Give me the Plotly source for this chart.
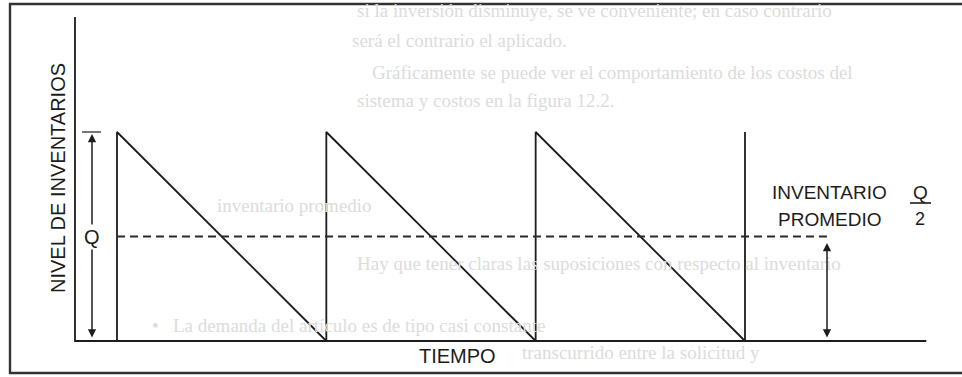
import plotly.graph_objects as go

# Modelo de inventario en dientes de sierra
pedidos = [0, 1, 2, 3]        # instantes de reposicion (un ciclo = 1)
Q = 100                       # tamaño del lote
promedio = Q / 2              # inventario promedio
fin_tiempo = 3.866            # extremo del eje TIEMPO
fin_promedio = 3.41           # donde termina la linea punteada
tope_eje_y = 155              # extremo superior del eje vertical

titulo_y = 'NIVEL DE INVENTARIOS'
titulo_x = 'TIEMPO'
etiqueta_1 = 'INVENTARIO'
etiqueta_2 = 'PROMEDIO'

# texto del reverso de la pagina que se transparenta en el escaneo
texto_fondo = [
    ('si la inversión disminuye, se ve conveniente; en caso contrario', 355, 10),
    ('será el contrario el aplicado.', 350, 40),
    ('Gráficamente se puede ver el comportamiento de los costos del', 370, 72),
    ('sistema y costos en la figura 12.2.', 355, 100),
    ('inventario promedio', 215, 205),
    ('Hay que tener claras las suposiciones con respecto al inventario', 355, 263),
    ('•   La demanda del artículo es de tipo casi constante', 150, 325),
    ('transcurrido entre la solicitud y', 520, 352),
]

# escala: pixeles de la imagen -> unidades de datos
W, H = 962, 377
x0_px, px_x = 117, 209.33
y0_px, px_y = 341, 2.09
def dx(px):
    return (px - x0_px) / px_x
def dy(py):
    return (y0_px - py) / px_y

negro = '#1c1c1c'
fuente = 'Arial, Liberation Sans, sans-serif'

xs, ys = [], []
for i, t in enumerate(pedidos):
    xs += [t, t]
    ys += [0, Q]
    if i < len(pedidos) - 1:
        xs.append(pedidos[i + 1])
        ys.append(0)

fig = go.Figure()

# texto tenue de fondo
for txt, px, py in texto_fondo:
    fig.add_annotation(x=dx(px), y=dy(py), text=txt, showarrow=False,
                       xanchor='left', yanchor='middle',
                       font=dict(family='Liberation Serif, DejaVu Serif, serif',
                                 size=19, color='#dcdcdc'))

# ejes dibujados
fig.add_trace(go.Scatter(x=[dx(75), dx(75), fin_tiempo], y=[tope_eje_y, 0, 0],
                         mode='lines', line=dict(color=negro, width=1.8),
                         hoverinfo='skip'))
# dientes de sierra
fig.add_trace(go.Scatter(x=xs, y=ys, mode='lines',
                         line=dict(color=negro, width=1.8), hoverinfo='skip'))
# inventario promedio
fig.add_trace(go.Scatter(x=[pedidos[0], fin_promedio], y=[promedio, promedio],
                         mode='lines', line=dict(color='#2a2a2a', width=2, dash='8px,5px'),
                         hoverinfo='skip'))
# marca superior de Q
fig.add_trace(go.Scatter(x=[dx(82), dx(101)], y=[Q, Q], mode='lines',
                         line=dict(color='#555555', width=1.6), hoverinfo='skip'))
# barra de la fraccion Q/2
fig.add_trace(go.Scatter(x=[dx(910), dx(931)], y=[dy(203), dy(203)], mode='lines',
                         line=dict(color=negro, width=1.6), hoverinfo='skip'))

# flecha doble de Q
fig.add_annotation(x=dx(92), y=Q, ax=dx(92), ay=0, xref='x', yref='y',
                   axref='x', ayref='y', text='', showarrow=True,
                   arrowhead=2, arrowside='end+start', arrowsize=1.1,
                   arrowwidth=1.5, arrowcolor=negro, standoff=2, startstandoff=2)
fig.add_annotation(x=dx(92), y=promedio, text='Q', showarrow=False,
                   bgcolor='white', font=dict(family=fuente, size=20, color=negro))

# flecha doble del promedio
fig.add_annotation(x=dx(827), y=dy(243), ax=dx(827), ay=0, xref='x', yref='y',
                   axref='x', ayref='y', text='', showarrow=True,
                   arrowhead=2, arrowside='end+start', arrowsize=1.1,
                   arrowwidth=1.5, arrowcolor=negro, standoff=0, startstandoff=2)

fig.add_annotation(x=dx(829), y=dy(192), text=etiqueta_1, showarrow=False,
                   font=dict(family=fuente, size=19, color=negro))
fig.add_annotation(x=dx(829), y=dy(219), text=etiqueta_2, showarrow=False,
                   font=dict(family=fuente, size=19, color=negro))
fig.add_annotation(x=dx(920), y=dy(192), text='Q', showarrow=False,
                   font=dict(family=fuente, size=19, color=negro))
fig.add_annotation(x=dx(920), y=dy(219), text='2', showarrow=False,
                   font=dict(family=fuente, size=18, color=negro))

fig.add_annotation(x=dx(58), y=dy(178), text=titulo_y, textangle=-90, showarrow=False,
                   font=dict(family=fuente, size=20, color=negro))
fig.add_annotation(x=dx(457), y=dy(356), text=titulo_x, showarrow=False,
                   font=dict(family=fuente, size=20, color=negro))

# marco exterior de la figura
fig.add_shape(type='rect', xref='paper', yref='paper',
              x0=10 / W, x1=1.02, y0=1 - 373 / H, y1=1 - 4 / H,
              line=dict(color='#333333', width=2.4))

fig.update_layout(width=W, height=H, margin=dict(l=0, r=0, t=0, b=0),
                  paper_bgcolor='white', plot_bgcolor='white', showlegend=False,
                  xaxis=dict(range=[dx(0), dx(W)], visible=False, fixedrange=True),
                  yaxis=dict(range=[dy(H), dy(0)], visible=False, fixedrange=True))

# sin margen del body para que la figura ocupe toda la ventana
fig.write_html('out.html', config={'displayModeBar': False},
               post_script="document.body.style.margin='0px';")
